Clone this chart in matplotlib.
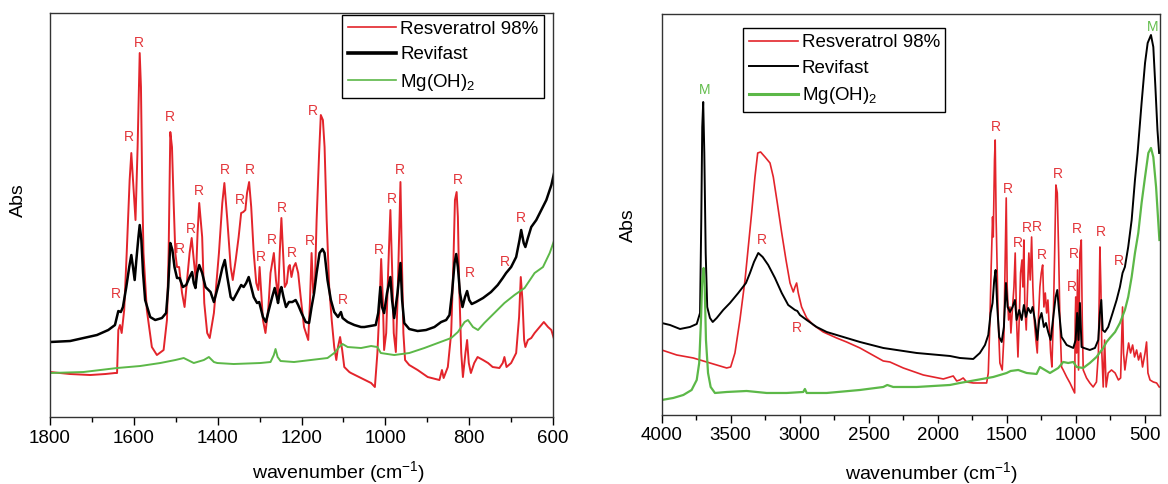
import matplotlib
matplotlib.use("Agg")
import matplotlib.pyplot as plt
from matplotlib.ticker import MultipleLocator

plt.rcParams["font.family"] = ["Liberation Sans", "DejaVu Sans"]
plt.rcParams["mathtext.fontset"] = "custom"
plt.rcParams["mathtext.rm"] = "Liberation Sans"
plt.rcParams["mathtext.it"] = "Liberation Sans"

RED = "#e3242b"
GREEN = "#5cb848"
LBL_RED = "#e3353a"
LBL_GREEN = "#62bd4c"

# ---------------- left panel: 1800-600 cm-1 (wavenumber, Abs a.u.) ----------------
L_res_w = [1800, 1752, 1704, 1668, 1645, 1640, 1637, 1633, 1629, 1623, 1617, 1610, 1606, 1601,
           1596, 1591, 1586, 1583, 1580, 1577, 1569, 1557, 1545, 1529, 1521, 1517, 1513, 1509,
           1505, 1501, 1497, 1492, 1485, 1479, 1473, 1467, 1462, 1457, 1452, 1448, 1444, 1437,
           1432, 1425, 1419, 1409, 1397, 1389, 1384, 1377, 1369, 1364, 1357, 1350, 1344, 1339,
           1334, 1330, 1325, 1320, 1314, 1308, 1303, 1300, 1297, 1292, 1286, 1279, 1274, 1266,
           1261, 1256, 1252, 1248, 1244, 1240, 1235, 1231, 1228, 1224, 1219, 1214, 1208, 1202,
           1194, 1184, 1180, 1176, 1172, 1168, 1164, 1158, 1154, 1149, 1145, 1140, 1134, 1128,
           1122, 1117, 1113, 1108, 1103, 1098, 1086, 1082, 1058, 1034, 1025, 1019, 1014, 1010,
           1006, 1003, 998, 993, 988, 984, 980, 975, 971, 967, 964, 961, 957, 953, 943, 923,
           899, 871, 865, 861, 851, 843, 838, 834, 830, 827, 824, 819, 815, 809, 805, 801, 796,
           788, 780, 767, 755, 744, 728, 720, 716, 711, 700, 688, 681, 677, 673, 669, 666, 660,
           652, 644, 632, 622, 612, 604, 597]
L_res_a = [0.45, 0.43, 0.42, 0.43, 0.44, 0.44, 0.87, 0.92, 0.84, 1.07, 1.64, 2.37, 2.64, 2.30,
           1.97, 2.70, 3.64, 3.30, 2.30, 1.64, 1.07, 0.70, 0.62, 0.67, 0.97, 1.64, 2.85, 2.70,
           2.14, 1.64, 1.50, 1.50, 1.24, 1.10, 1.37, 1.64, 1.79, 1.57, 1.37, 1.84, 2.14, 1.80,
           1.14, 0.84, 0.79, 1.04, 1.64, 2.14, 2.34, 1.97, 1.50, 1.37, 1.57, 1.80, 2.04, 2.05,
           2.07, 2.24, 2.35, 2.10, 1.64, 1.34, 1.27, 1.50, 1.30, 0.97, 0.84, 1.10, 1.44, 1.64,
           1.37, 1.20, 1.64, 1.99, 1.64, 1.30, 1.34, 1.50, 1.52, 1.40, 1.50, 1.54, 1.44, 1.20,
           0.90, 0.77, 1.14, 1.64, 1.24, 1.34, 1.97, 2.64, 3.02, 2.97, 2.70, 1.97, 1.30, 0.97,
           0.70, 0.57, 0.70, 0.80, 0.67, 0.50, 0.45, 0.44, 0.39, 0.34, 0.30, 0.64, 1.10, 1.58,
           1.17, 0.67, 0.84, 1.50, 2.07, 1.50, 0.84, 0.65, 1.17, 1.84, 2.35, 1.67, 0.84, 0.57,
           0.52, 0.47, 0.40, 0.37, 0.47, 0.39, 0.50, 0.84, 1.50, 2.17, 2.25, 2.00, 1.34, 0.64,
           0.40, 0.64, 0.77, 0.54, 0.44, 0.54, 0.60, 0.57, 0.54, 0.50, 0.49, 0.54, 0.60, 0.50,
           0.54, 0.64, 1.00, 1.40, 1.17, 0.77, 0.70, 0.77, 0.79, 0.84, 0.90, 0.95, 0.90, 0.87,
           0.77]

L_rev_w = [1800, 1752, 1720, 1688, 1661, 1645, 1637, 1631, 1626, 1618, 1611, 1606, 1602, 1598,
           1594, 1589, 1586, 1582, 1578, 1573, 1561, 1549, 1533, 1523, 1518, 1513, 1508, 1503,
           1497, 1491, 1483, 1475, 1467, 1461, 1457, 1453, 1449, 1444, 1437, 1429, 1417, 1409,
           1397, 1389, 1383, 1377, 1369, 1363, 1353, 1344, 1338, 1332, 1326, 1320, 1314, 1306,
           1301, 1298, 1292, 1285, 1278, 1270, 1264, 1259, 1256, 1251, 1248, 1243, 1237, 1230,
           1222, 1214, 1208, 1200, 1190, 1182, 1176, 1170, 1164, 1157, 1150, 1145, 1138, 1130,
           1122, 1113, 1106, 1102, 1090, 1074, 1058, 1050, 1023, 1017, 1012, 1008, 1003, 996,
           988, 984, 979, 971, 964, 960, 955, 943, 923, 903, 883, 867, 855, 847, 841, 835, 831,
           827, 822, 816, 810, 805, 800, 794, 784, 767, 748, 732, 720, 712, 700, 688, 680, 676,
           670, 666, 660, 652, 640, 628, 616, 604, 597]
L_rev_a = [0.75, 0.76, 0.79, 0.82, 0.87, 0.92, 1.06, 1.05, 1.10, 1.30, 1.50, 1.62, 1.50, 1.37,
           1.57, 1.80, 1.92, 1.77, 1.44, 1.17, 1.00, 0.97, 0.99, 1.04, 1.30, 1.74, 1.67, 1.50,
           1.39, 1.39, 1.30, 1.32, 1.40, 1.45, 1.34, 1.29, 1.44, 1.52, 1.44, 1.30, 1.25, 1.15,
           1.34, 1.49, 1.57, 1.40, 1.20, 1.17, 1.25, 1.32, 1.30, 1.34, 1.40, 1.30, 1.20, 1.14,
           1.15, 1.10, 1.00, 0.95, 1.07, 1.20, 1.29, 1.20, 1.14, 1.27, 1.30, 1.20, 1.10, 1.15,
           1.15, 1.17, 1.12, 1.04, 0.95, 0.94, 1.10, 1.24, 1.44, 1.64, 1.68, 1.64, 1.37, 1.17,
           1.05, 1.00, 1.05, 0.99, 0.95, 0.92, 0.90, 0.90, 0.92, 1.04, 1.30, 1.10, 1.04, 1.24,
           1.40, 1.17, 0.99, 1.24, 1.54, 1.17, 0.94, 0.88, 0.86, 0.87, 0.90, 0.95, 0.97, 1.02,
           1.24, 1.54, 1.63, 1.50, 1.24, 1.10, 1.20, 1.26, 1.17, 1.13, 1.15, 1.19, 1.25, 1.32,
           1.39, 1.44, 1.50, 1.60, 1.77, 1.87, 1.74, 1.70, 1.79, 1.90, 1.97, 2.07, 2.17, 2.32,
           2.45]

L_mg_w = [1800, 1720, 1640, 1585, 1537, 1501, 1481, 1457, 1433, 1421, 1409, 1401, 1362, 1298,
          1274, 1266, 1262, 1257, 1250, 1218, 1178, 1138, 1122, 1110, 1102, 1090, 1058, 1034,
          1019, 1011, 979, 943, 907, 875, 843, 827, 811, 803, 791, 779, 764, 740, 716, 692, 668,
          644, 624, 608, 597]
L_mg_a = [0.44, 0.45, 0.49, 0.51, 0.54, 0.57, 0.59, 0.54, 0.57, 0.60, 0.55, 0.54, 0.53, 0.54,
          0.55, 0.62, 0.68, 0.60, 0.56, 0.55, 0.57, 0.59, 0.64, 0.70, 0.73, 0.70, 0.69, 0.71,
          0.70, 0.64, 0.62, 0.64, 0.69, 0.74, 0.79, 0.85, 0.95, 0.97, 0.90, 0.87, 0.94, 1.04,
          1.14, 1.22, 1.29, 1.44, 1.50, 1.64, 1.77]

L_R_w = [1587, 1611, 1515, 1384, 1323, 1347, 1445, 1463, 1489, 1642, 1246, 1270, 1298, 1224,
         1181, 1174, 1101, 1015, 985, 965, 827, 799, 716, 677]
L_R_a = [3.74, 2.80, 3.00, 2.47, 2.47, 2.17, 2.26, 1.88, 1.68, 1.23, 2.09, 1.77, 1.60, 1.64,
         1.76, 3.06, 1.17, 1.67, 2.18, 2.47, 2.37, 1.44, 1.55, 1.99]

# ---------------- right panel: 4000-390 cm-1 ----------------
R_res_w = [4000, 3891, 3771, 3699, 3601, 3529, 3500, 3469, 3433, 3396, 3372, 3348, 3324, 3304,
           3283, 3251, 3215, 3191, 3162, 3130, 3099, 3070, 3046, 3034, 3022, 3010, 2986, 2949,
           2901, 2829, 2732, 2660, 2563, 2394, 2346, 2249, 2104, 1959, 1887, 1862, 1839, 1815,
           1790, 1742, 1694, 1645, 1633, 1621, 1612, 1602, 1597, 1588, 1583, 1576, 1561, 1549,
           1532, 1520, 1510, 1503, 1496, 1486, 1476, 1469, 1460, 1447, 1438, 1428, 1418, 1409,
           1399, 1389, 1382, 1375, 1368, 1358, 1348, 1339, 1329, 1319, 1310, 1300, 1288, 1278,
           1268, 1259, 1249, 1239, 1230, 1220, 1210, 1201, 1191, 1181, 1172, 1162, 1152, 1143,
           1133, 1123, 1114, 1102, 1090, 1065, 1041, 1017, 1007, 1003, 999, 993, 986, 979, 969,
           959, 952, 945, 921, 897, 873, 849, 835, 824, 817, 810, 800, 790, 779, 764, 740, 714,
           690, 674, 663, 660, 653, 643, 631, 616, 602, 587, 573, 558, 544, 529, 515, 497, 486,
           476, 461, 437, 413, 394]
R_res_a = [0.65, 0.60, 0.57, 0.54, 0.50, 0.47, 0.48, 0.62, 0.95, 1.35, 1.68, 2.02, 2.38, 2.62,
           2.63, 2.58, 2.52, 2.38, 2.12, 1.82, 1.55, 1.32, 1.23, 1.28, 1.32, 1.22, 1.08, 0.97,
           0.90, 0.83, 0.77, 0.73, 0.67, 0.54, 0.53, 0.47, 0.40, 0.36, 0.39, 0.34, 0.35, 0.37,
           0.33, 0.32, 0.32, 0.32, 0.42, 0.95, 1.48, 1.98, 1.78, 2.55, 2.75, 1.95, 0.95, 0.52,
           0.45, 0.78, 1.62, 2.17, 1.28, 0.95, 1.08, 0.82, 1.02, 1.28, 1.62, 0.95, 0.58, 0.95,
           1.42, 1.55, 1.28, 1.75, 1.08, 0.85, 1.28, 1.62, 1.35, 1.78, 1.28, 0.95, 0.75, 0.62,
           1.02, 1.28, 1.42, 1.50, 1.08, 1.22, 1.02, 1.15, 0.88, 0.62, 0.48, 0.95, 1.62, 2.30,
           2.22, 1.62, 0.95, 0.48, 0.45, 0.38, 0.32, 0.25, 0.22, 0.95, 1.18, 0.62, 1.45, 0.45,
           1.62, 1.75, 0.95, 0.45, 0.37, 0.32, 0.28, 0.33, 0.62, 1.68, 1.28, 0.62, 0.28, 0.75,
           0.28, 0.42, 0.45, 0.42, 0.35, 0.37, 0.95, 1.08, 0.62, 0.45, 0.58, 0.72, 0.62, 0.70,
           0.58, 0.65, 0.55, 0.62, 0.48, 0.62, 0.73, 0.42, 0.35, 0.33, 0.32, 0.28]

R_rev_w = [4000, 3940, 3867, 3795, 3746, 3722, 3713, 3706, 3699, 3691, 3681, 3670, 3650, 3630,
           3601, 3554, 3505, 3445, 3389, 3360, 3331, 3300, 3268, 3228, 3179, 3130, 3083, 3034,
           3017, 2998, 2949, 2877, 2804, 2708, 2563, 2394, 2152, 1911, 1839, 1742, 1694, 1657,
           1633, 1616, 1602, 1590, 1580, 1568, 1554, 1536, 1520, 1505, 1493, 1476, 1457, 1440,
           1428, 1409, 1391, 1375, 1360, 1344, 1326, 1312, 1295, 1278, 1264, 1247, 1230, 1215,
           1199, 1181, 1162, 1145, 1133, 1121, 1102, 1065, 1017, 1000, 989, 979, 969, 957, 940,
           897, 860, 836, 824, 814, 804, 788, 764, 732, 703, 679, 660, 643, 619, 594, 570, 551,
           522, 497, 478, 454, 437, 422, 407, 395]
R_rev_a = [0.92, 0.90, 0.86, 0.88, 0.91, 1.02, 1.95, 2.88, 3.13, 2.62, 1.62, 1.08, 0.97, 0.93,
           0.97, 1.05, 1.12, 1.22, 1.32, 1.42, 1.53, 1.62, 1.58, 1.50, 1.37, 1.22, 1.10, 1.05,
           1.04, 1.00, 0.95, 0.88, 0.83, 0.79, 0.73, 0.67, 0.62, 0.59, 0.57, 0.56, 0.62, 0.70,
           0.80, 1.02, 1.12, 1.35, 1.45, 1.08, 0.78, 0.73, 0.88, 1.32, 1.08, 1.03, 1.08, 1.15,
           0.95, 1.05, 0.95, 1.10, 0.98, 1.07, 1.02, 1.08, 0.95, 0.75, 0.95, 1.02, 0.88, 0.92,
           0.83, 0.75, 0.98, 1.18, 1.25, 1.05, 0.78, 0.70, 0.67, 0.75, 1.02, 0.75, 1.12, 0.68,
           0.67, 0.65, 0.67, 0.75, 1.02, 1.15, 0.85, 0.83, 0.88, 1.02, 1.15, 1.28, 1.42, 1.48,
           1.68, 1.95, 2.35, 2.62, 3.12, 3.52, 3.72, 3.80, 3.68, 3.28, 2.85, 2.62]

R_mg_w = [4000, 3916, 3843, 3783, 3746, 3728, 3715, 3706, 3696, 3688, 3679, 3664, 3645, 3614,
          3529, 3384, 3239, 3094, 2974, 2962, 2949, 2804, 2563, 2394, 2365, 2322, 2152, 1911,
          1839, 1718, 1597, 1500, 1471, 1416, 1355, 1283, 1259, 1186, 1126, 1090, 1054, 1017,
          993, 945, 897, 849, 800, 776, 752, 714, 679, 643, 619, 594, 570, 546, 522, 497, 473,
          454, 437, 417, 402, 393]
R_mg_a = [0.15, 0.17, 0.20, 0.25, 0.35, 0.52, 0.95, 1.35, 1.47, 1.28, 0.75, 0.42, 0.28, 0.22,
          0.23, 0.24, 0.22, 0.22, 0.23, 0.26, 0.22, 0.22, 0.25, 0.28, 0.30, 0.28, 0.28, 0.30,
          0.32, 0.35, 0.38, 0.42, 0.44, 0.45, 0.42, 0.41, 0.48, 0.42, 0.47, 0.53, 0.52, 0.53,
          0.48, 0.47, 0.52, 0.58, 0.67, 0.73, 0.77, 0.83, 0.92, 1.05, 1.18, 1.38, 1.62, 1.82,
          2.12, 2.38, 2.62, 2.67, 2.58, 2.28, 1.95, 1.75]

R_R_w = [3271, 3017, 1580, 1489, 1416, 1355, 1283, 1242, 1126, 993, 1012, 1025, 817, 684]
R_R_a = [1.75, 0.87, 2.88, 2.26, 1.72, 1.87, 1.88, 1.60, 2.41, 1.86, 1.61, 1.28, 1.83, 1.54]
R_M_w = [3691, 442]
R_M_a = [3.25, 3.88]

LABELS = ["Resveratrol 98%", "Revifast", r"Mg(OH)$_\mathregular{2}$"]

fig = plt.figure(figsize=(11.68, 4.84), dpi=100)
axL = fig.add_axes([0.0428, 0.1384, 0.4307, 0.8347])
axR = fig.add_axes([0.5665, 0.1426, 0.4266, 0.8285])

# left
axL.plot(L_res_w, L_res_a, color=RED, lw=1.4, label=LABELS[0])
axL.plot(L_rev_w, L_rev_a, color="k", lw=1.8, label=LABELS[1])
axL.plot(L_mg_w, L_mg_a, color=GREEN, lw=1.4, label=LABELS[2])
for w, a in zip(L_R_w, L_R_a):
    axL.text(w, a, "R", color=LBL_RED, fontsize=10, ha="center", va="center")
axL.set_xlim(1800, 600)
axL.set_ylim(0, 4.04)
axL.xaxis.set_major_locator(MultipleLocator(200))
axL.xaxis.set_minor_locator(MultipleLocator(100))

# right
axR.plot(R_res_w, R_res_a, color=RED, lw=1.2, label=LABELS[0])
axR.plot(R_rev_w, R_rev_a, color="k", lw=1.4, label=LABELS[1])
axR.plot(R_mg_w, R_mg_a, color=GREEN, lw=1.6, label=LABELS[2])
for w, a in zip(R_R_w, R_R_a):
    axR.text(w, a, "R", color=LBL_RED, fontsize=10, ha="center", va="center")
for w, a in zip(R_M_w, R_M_a):
    axR.text(w, a, "M", color=LBL_GREEN, fontsize=10, ha="center", va="center")
axR.set_xlim(4000, 389)
axR.set_ylim(0, 4.01)
axR.xaxis.set_major_locator(MultipleLocator(500))
axR.xaxis.set_minor_locator(MultipleLocator(250))

for ax, lx, ly, ax_x, ax_y in [(axL, 0.574, -0.105, -0.046, 0.537),
                               (axR, 0.542, -0.112, -0.050, 0.474)]:
    ax.set_yticks([])
    ax.tick_params(axis="x", which="major", direction="out", length=6, width=1,
                   labelsize=13.5, pad=3)
    ax.tick_params(axis="x", which="minor", direction="out", length=3.5, width=1)
    for s in ax.spines.values():
        s.set_linewidth(1.0)
        s.set_color("#333333")
    ax.set_xlabel(r"wavenumber (cm$^{\mathregular{-1}}$)", fontsize=14)
    ax.xaxis.set_label_coords(lx, ly)
    ax.set_ylabel("Abs", fontsize=14)
    ax.yaxis.set_label_coords(ax_x, ax_y)

legL = axL.legend(loc="upper right", bbox_to_anchor=(0.982, 0.995), borderaxespad=0,
                  fontsize=13.5, frameon=True, fancybox=False, edgecolor="k",
                  handlelength=2.6, handletextpad=0.2, labelspacing=0.45, borderpad=0.3)
legR = axR.legend(loc="upper left", bbox_to_anchor=(0.164, 0.964), borderaxespad=0,
                  fontsize=13.5, frameon=True, fancybox=False, edgecolor="k",
                  handlelength=2.6, handletextpad=0.2, labelspacing=0.45, borderpad=0.3)
for leg in (legL, legR):
    leg.get_frame().set_linewidth(1.0)
    leg.get_frame().set_alpha(1)
for line, lw in zip(legL.get_lines(), [1.2, 2.6, 1.2]):
    line.set_linewidth(lw)
for line, lw in zip(legR.get_lines(), [1.2, 1.4, 2.2]):
    line.set_linewidth(lw)

fig.savefig("out.png", dpi=100)
